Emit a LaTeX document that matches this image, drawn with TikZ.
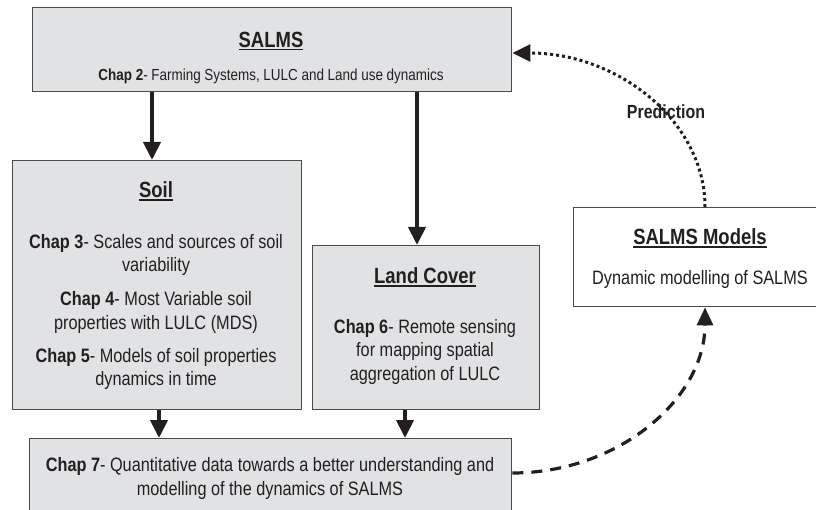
\documentclass[tikz,border=0pt]{standalone}
\usepackage{fontspec}
\setmainfont{Liberation Sans}[FakeStretch=0.84]
\usetikzlibrary{arrows.meta}
\definecolor{boxfill}{HTML}{E1E2E4}
\definecolor{boxline}{HTML}{4A4A4A}
\definecolor{ink}{HTML}{231F20}
% underlined heading with a heavier rule
\newcommand\headline[1]{\setbox0\hbox{#1}\leavevmode\rlap{\copy0}\raisebox{-3.2pt}{\rule{\wd0}{1.7pt}}}
\tikzset{
  panel/.style={draw=boxline, line width=1.4pt, fill=boxfill, inner sep=0pt},
  whitepanel/.style={draw=boxline, line width=1.4pt, fill=white, inner sep=0pt},
  heading/.style={text=ink, font=\fontsize{22}{26}\selectfont\bfseries, inner sep=0pt},
  body/.style={text=ink, font=\fontsize{19.4}{23.5}\selectfont, align=center, inner sep=0pt},
  flow/.style={line width=4pt, draw=ink, -{Triangle[length=18pt,width=17pt]}},
  feedback/.style={line width=3.2pt, draw=ink, dash pattern=on 11pt off 8pt, -{Triangle[length=18pt,width=16pt]}},
  predict/.style={line width=3pt, draw=ink, dash pattern=on 3pt off 3pt, -{Triangle[length=18pt,width=17pt]}},
}
\begin{document}
\begin{tikzpicture}[x=1pt,y=-1pt]
\useasboundingbox (0,0) rectangle (816,510);
\clip (0,0) rectangle (816,510);

% boxes
\node[panel, minimum width=479pt, minimum height=84pt, anchor=north west] (salms) at (32,7) {};
\node[panel, minimum width=289pt, minimum height=249pt, anchor=north west] (soil) at (12,160) {};
\node[panel, minimum width=227pt, minimum height=164pt, anchor=north west] (land) at (312,245) {};
\node[panel, minimum width=482pt, minimum height=100pt, anchor=north west] (chap7) at (29,438) {};
\node[whitepanel, minimum width=260pt, minimum height=99pt, anchor=north west] (models) at (573,207) {};

% SALMS
\node[heading] (salmsT) at (271,41) {\headline{SALMS}};
\node[body, font=\fontsize{16}{20}\selectfont] (salmsB) at (271,76) {\textbf{Chap 2}- Farming Systems, LULC and Land use dynamics};

% Soil
\node[heading] (soilT) at (156,191) {\headline{Soil}};
\node[body] (soil3) at (156,255) {\textbf{Chap 3}- Scales and sources of soil\\variability};
\node[body] (soil4) at (156,312.5) {\textbf{Chap 4}- Most Variable soil\\properties with LULC (MDS)};
\node[body] (soil5) at (156,369) {\textbf{Chap 5}- Models of soil properties\\dynamics in time};

% Land cover
\node[heading] (landT) at (425,277) {\headline{Land Cover}};
\node[body] (land6) at (425,351.5) {\textbf{Chap 6}- Remote sensing\\for mapping spatial\\aggregation of LULC};

% Chapter 7
\node[body] (chap7T) at (270,478.5) {\textbf{Chap 7}- Quantitative data towards a better understanding and\\modelling of the dynamics of SALMS};

% Models
\node[heading] (modelsT) at (700,238) {\headline{SALMS Models}};
\node[body] (modelsB) at (700,279) {Dynamic modelling of SALMS};

% connectors
\draw[flow] (salms.south -| 152,0) -- (soil.north -| 152,0);
\draw[flow] (salms.south -| 417,0) -- (land.north -| 417,0);
\draw[flow] (soil.south -| 159,0) -- (chap7.north -| 159,0);
\draw[flow] (land.south -| 405,0) -- (chap7.north -| 405,0);

\coordinate (fbStart) at (chap7.east |- 0,473);
\coordinate (fbEnd) at (models.south -| 705,0);
\draw[feedback] (fbStart) .. controls (618,473) and (705,399) .. (fbEnd);

\coordinate (prStart) at (models.north -| 705,0);
\coordinate (prEnd) at (salms.east |- 0,53);
\draw[predict] (prStart) .. controls (705,122) and (619,53) .. (prEnd);
\node[text=ink, font=\fontsize{19}{22}\selectfont\bfseries, inner sep=0pt] (pred) at (666,112) {Prediction};
\end{tikzpicture}
\end{document}
